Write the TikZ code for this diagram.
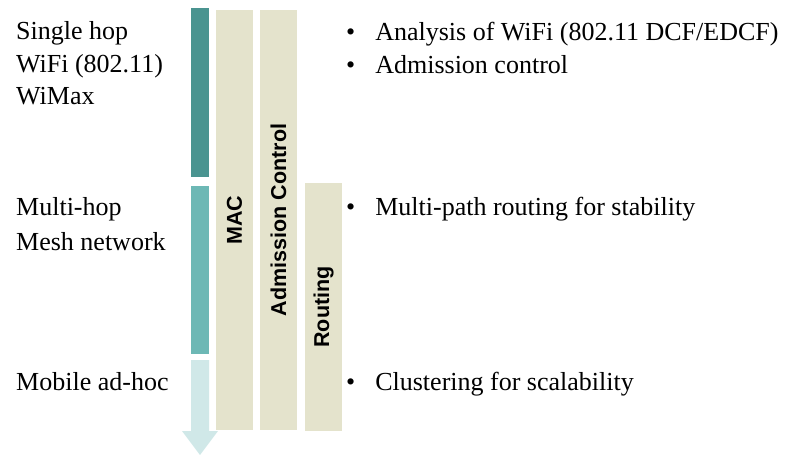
\documentclass[tikz,border=0pt]{standalone}
\usepackage{fontspec}
\setmainfont{Liberation Serif}
\setsansfont{Liberation Sans}
\begin{document}
\begin{tikzpicture}[x=1pt,y=-1pt,
  lbl/.style={anchor=base west,inner sep=0pt,font=\fontsize{26}{30}\selectfont},
  bul/.style={anchor=base west,inner sep=0pt,font=\fontsize{26}{30}\selectfont},
  layer/.style={fill=beige,draw=none},
  layertext/.style={rotate=90,font=\sffamily\bfseries\fontsize{21.5}{24}\selectfont,inner sep=0pt}]
\definecolor{darkteal}{RGB}{74,148,144}
\definecolor{midteal}{RGB}{109,184,181}
\definecolor{lightteal}{RGB}{208,232,232}
\definecolor{beige}{RGB}{228,227,204}
\useasboundingbox (0,0) rectangle (787,455);

% scope bars on the left
\fill[darkteal] (191,8) rectangle (209,177);
\fill[midteal] (191,186) rectangle (209,354);
\fill[lightteal] (191,360) -- (209,360) -- (209,431) -- (218,431) -- (200,455)
  -- (182,431) -- (191,431) -- cycle;

% protocol layers
\fill[layer] (216,10) rectangle (253,430);
\fill[layer] (260,10) rectangle (297,430);
\fill[layer] (305,183) rectangle (342,431);
\node[layertext] (mac) at (234.5,220) {MAC};
\node[layertext] (adm) at (278.5,220) {Admission Control};
\node[layertext] (rt) at (323.5,307) {Routing};

% network types
\node[lbl] (s1) at (16,39) {Single hop};
\node[lbl] (s2) at (16,72) {WiFi (802.11)};
\node[lbl] (s3) at (16,104.5) {WiMax};
\node[lbl] (m1) at (16,215) {Multi-hop};
\node[lbl] (m2) at (16,250.5) {Mesh network};
\node[lbl] (a1) at (16,390) {Mobile ad-hoc};

% topics
\node[bul] (b1) at (346,40.5) {•\hspace{20pt}Analysis of WiFi (802.11 DCF/EDCF)};
\node[bul] (b2) at (346,73) {•\hspace{20pt}Admission control};
\node[bul] (b3) at (346,215) {•\hspace{20pt}Multi-path routing for stability};
\node[bul] (b4) at (346,390) {•\hspace{20pt}Clustering for scalability};
\end{tikzpicture}
\end{document}
